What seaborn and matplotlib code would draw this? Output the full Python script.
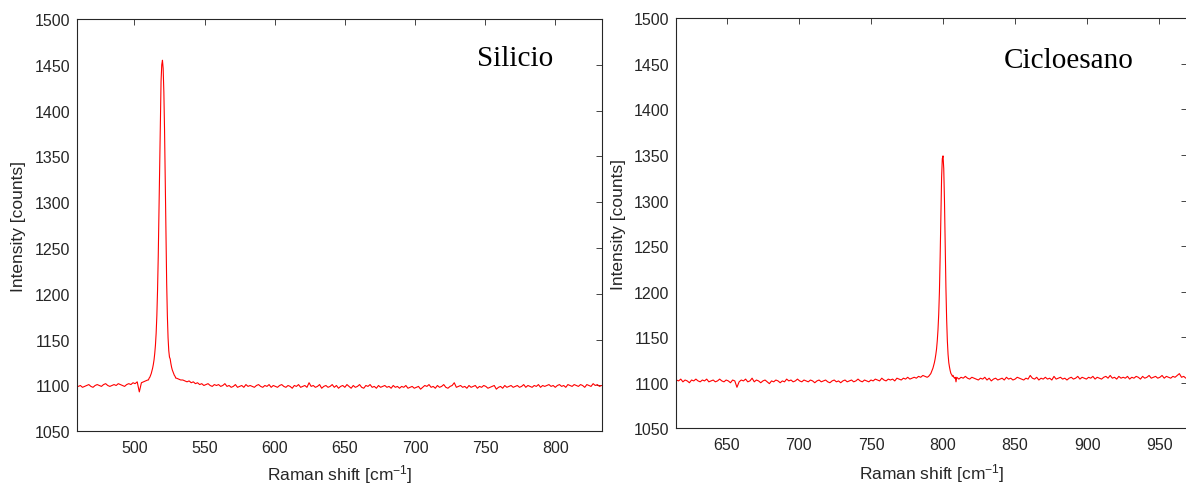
import numpy as np
import pandas as pd
import matplotlib
matplotlib.use("Agg")
import matplotlib.pyplot as plt
import seaborn as sns

# ---- Silicon spectrum (Raman shift in cm^-1, intensity in counts) ----
si_base_lo_range = (460.0, 509.5)
si_base_lo = [1099, 1100, 1098, 1099, 1100, 1101, 1099, 1098, 1100, 1101,
              1100, 1099, 1101, 1102, 1100, 1099, 1100, 1101, 1100, 1102,
              1101, 1100, 1099, 1101, 1102, 1101, 1103, 1102, 1104, 1093,
              1103, 1104, 1105, 1106]

si_peak_range = (510.0, 529.5)
si_peak = [1106, 1108, 1109, 1111, 1113, 1116, 1119, 1123, 1128, 1135,
           1144, 1157, 1176, 1204, 1241, 1290, 1345, 1395, 1432, 1450,
           1455, 1446, 1420, 1378, 1320, 1262, 1212, 1176, 1152, 1138,
           1131, 1129, 1124, 1120, 1117, 1115, 1113, 1111, 1110, 1108]

si_base_hi_range = (530.0, 833.0)
si_base_hi = [1108, 1107, 1106, 1106, 1105, 1104, 1105, 1103, 1104, 1102,
              1103, 1101, 1102, 1100, 1101, 1102, 1100, 1099, 1101, 1100,
              1101, 1099, 1100, 1102, 1099, 1100, 1098, 1099, 1101, 1098,
              1099, 1100, 1098, 1101, 1099, 1100, 1099, 1098, 1100, 1101,
              1099, 1098, 1100, 1099, 1101, 1098, 1100, 1099, 1098, 1100,
              1101, 1099, 1098, 1100, 1099, 1097, 1100, 1099, 1101, 1098,
              1099, 1100, 1098, 1103, 1099, 1100, 1098, 1099, 1101, 1097,
              1099, 1100, 1098, 1099, 1101, 1098, 1100, 1097, 1099, 1100,
              1098, 1101, 1099, 1097, 1100, 1098, 1099, 1101, 1098, 1097,
              1100, 1099, 1101, 1098, 1099, 1097, 1100, 1098, 1099, 1100,
              1098, 1099, 1097, 1100, 1098, 1099, 1097, 1099, 1098, 1100,
              1097, 1098, 1099, 1097, 1098, 1099, 1096, 1098, 1100, 1099,
              1101, 1098, 1099, 1097, 1100, 1098, 1099, 1101, 1098, 1097,
              1099, 1100, 1103, 1098, 1099, 1100, 1098, 1099, 1097, 1100,
              1098, 1099, 1100, 1097, 1099, 1098, 1100, 1099, 1097, 1098,
              1099, 1100, 1096, 1098, 1099, 1097, 1100, 1098, 1099, 1100,
              1098, 1099, 1100, 1098, 1099, 1101, 1098, 1100, 1099, 1098,
              1100, 1099, 1101, 1098, 1100, 1099, 1100, 1101, 1099, 1100,
              1098, 1100, 1101, 1099, 1100, 1098, 1101, 1100, 1099, 1101,
              1100, 1099, 1101, 1100, 1098, 1101, 1100, 1099, 1102, 1100,
              1101, 1099, 1100]

# ---- Cyclohexane spectrum ----
cy_base_lo_range = (615.0, 789.0)
cy_base_lo = [1103, 1102, 1104, 1101, 1103, 1102, 1100, 1103, 1102, 1104,
              1102, 1101, 1103, 1102, 1104, 1101, 1102, 1103, 1101, 1102,
              1104, 1102, 1101, 1103, 1102, 1100, 1103, 1102, 1095, 1101,
              1103, 1102, 1104, 1101, 1102, 1105, 1101, 1103, 1102, 1100,
              1102, 1103, 1101, 1099, 1102, 1101, 1103, 1102, 1100, 1102,
              1101, 1104, 1102, 1103, 1101, 1102, 1104, 1102, 1101, 1103,
              1102, 1101, 1103, 1102, 1100, 1102, 1103, 1101, 1102, 1103,
              1101, 1100, 1102, 1103, 1101, 1102, 1100, 1102, 1103, 1101,
              1102, 1103, 1101, 1102, 1104, 1102, 1101, 1103, 1102, 1101,
              1103, 1102, 1104, 1103, 1102, 1105, 1103, 1102, 1104, 1103,
              1104, 1102, 1105, 1104, 1103, 1105, 1104, 1106, 1104, 1105,
              1106, 1105, 1107, 1106, 1108, 1107, 1106]

cy_peak_range = (790.0, 809.5)
cy_peak = [1107, 1108, 1109, 1110, 1112, 1114, 1116, 1119, 1122, 1126,
           1131, 1137, 1146, 1158, 1175, 1200, 1238, 1285, 1325, 1346,
           1349, 1335, 1300, 1250, 1205, 1170, 1146, 1131, 1122, 1117,
           1113, 1110, 1109, 1107, 1108, 1106, 1105, 1106, 1101, 1106]

cy_base_hi_range = (811.0, 968.5)
cy_base_hi = [1104, 1106, 1105, 1107, 1105, 1104, 1106, 1105, 1104, 1103,
              1105, 1104, 1106, 1103, 1105, 1102, 1104, 1105, 1103, 1104,
              1105, 1103, 1106, 1104, 1105, 1103, 1104, 1106, 1105, 1104,
              1103, 1105, 1104, 1108, 1105, 1104, 1106, 1103, 1105, 1104,
              1106, 1104, 1105, 1103, 1107, 1104, 1105, 1106, 1104, 1105,
              1103, 1105, 1106, 1104, 1105, 1107, 1104, 1106, 1105, 1104,
              1106, 1105, 1107, 1104, 1106, 1105, 1104, 1106, 1107, 1105,
              1108, 1105, 1106, 1104, 1107, 1105, 1106, 1105, 1107, 1104,
              1106, 1105, 1107, 1106, 1104, 1107, 1105, 1106, 1108, 1105,
              1106, 1107, 1105, 1106, 1108, 1105, 1107, 1106, 1105, 1107,
              1106, 1108, 1110, 1106, 1107, 1105]

# ---- axis settings ----
y_ticks = [1050, 1100, 1150, 1200, 1250, 1300, 1350, 1400, 1450, 1500]
si_x_ticks = [500, 550, 600, 650, 700, 750, 800]
cy_x_ticks = [650, 700, 750, 800, 850, 900, 950]
si_xlim = (459.3, 833.1)
cy_xlim = (614.7, 969.3)
y_lim = (1050, 1500)
y_label = "Intensity [counts]"
x_label = "Raman shift [cm$^{-1}$]"
si_title = "Silicio"
cy_title = "Cicloesano"


def spectrum(segments):
    xs, ys = [], []
    for (lo, hi), vals in segments:
        xs.append(np.linspace(lo, hi, len(vals)))
        ys.append(np.asarray(vals, dtype=float))
    return pd.DataFrame({"shift": np.concatenate(xs), "counts": np.concatenate(ys)})


si_df = spectrum([(si_base_lo_range, si_base_lo), (si_peak_range, si_peak),
                  (si_base_hi_range, si_base_hi)])
cy_df = spectrum([(cy_base_lo_range, cy_base_lo), (cy_peak_range, cy_peak),
                  (cy_base_hi_range, cy_base_hi)])

sns.set_theme(style="white")
ink = "#262626"
plt.rcParams.update({
    "font.family": ["Liberation Sans", "DejaVu Sans"],
    "mathtext.fontset": "custom",
    "mathtext.rm": "Liberation Sans",
    "mathtext.it": "Liberation Sans",
    "mathtext.default": "regular",
    "xtick.direction": "in",
    "ytick.direction": "in",
    "xtick.top": True,
    "ytick.right": True,
    "xtick.major.size": 4.0,
    "ytick.major.size": 4.0,
    "xtick.major.width": 0.6,
    "ytick.major.width": 0.6,
    "xtick.major.pad": 6.5,
    "ytick.major.pad": 5.0,
    "xtick.labelsize": 11.5,
    "ytick.labelsize": 11.5,
    "xtick.color": ink,
    "ytick.color": ink,
    "axes.edgecolor": ink,
    "axes.linewidth": 0.8,
    "axes.labelsize": 12.5,
    "axes.labelcolor": ink,
})

W, H = 1186, 485
fig = plt.figure(figsize=(W / 100, H / 100), dpi=100)

panels = [
    (si_df, si_xlim, si_x_ticks, si_title, (77.3, 601.7, 20.0, 432.3), (0.7616, 0.8884), -0.074),
    (cy_df, cy_xlim, cy_x_ticks, cy_title, (676.0, 1187.0, 19.3, 429.3), (0.641, 0.8805), -0.080),
]

for df, xlim, xticks, title, (l, r, t, b), (tx, ty), xl_y in panels:
    ax = fig.add_axes([l / W, 1 - b / H, (r - l) / W, (b - t) / H])
    sns.lineplot(data=df, x="shift", y="counts", ax=ax, color="#ff0000",
                 linewidth=0.8, estimator=None, sort=False)
    ax.set_xlim(*xlim)
    ax.set_ylim(*y_lim)
    ax.set_xticks(xticks)
    ax.set_yticks(y_ticks)
    ax.set_xlabel(x_label)
    ax.set_ylabel(y_label)
    ax.xaxis.set_label_coords(0.5, xl_y)
    ax.xaxis.label.set_va("top")
    ax.yaxis.set_label_coords(-0.112, 0.5)
    ax.yaxis.label.set_va("center")
    for s in ax.spines.values():
        s.set_visible(True)
    ax.text(tx, ty, title, transform=ax.transAxes, ha="left", va="baseline",
            fontsize=21, family=["Liberation Serif", "DejaVu Serif"], color="black")

fig.savefig("out.png", dpi=100)
